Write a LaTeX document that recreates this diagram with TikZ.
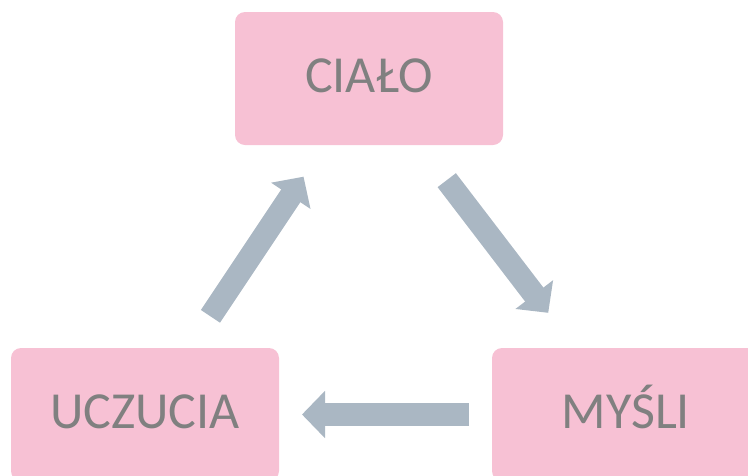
\documentclass[tikz,border=0pt]{standalone}
\usepackage{fontspec}
\setmainfont{Carlito}
\usepackage{xcolor}
\usepackage{tikz}
\usetikzlibrary{positioning,calc,arrows.meta}

\definecolor{boxpink}{HTML}{F7C1D4}
\definecolor{flowgray}{HTML}{AAB7C3}
\definecolor{textgray}{HTML}{808080}

\begin{document}
\begin{tikzpicture}[x=1pt,y=-1pt,
    box/.style={fill=boxpink, rounded corners=10pt, minimum width=268pt, minimum height=133pt,
        text=textgray, font=\fontsize{52}{60}\selectfont, text height=34pt, text depth=6pt},
    flow/.style={draw=flowgray, line width=23pt, -{Triangle[width=46pt,length=23pt]}, fill=flowgray}]
    \useasboundingbox (0,0) rectangle (748,475);
    \clip (0,0) rectangle (748,475);

    \node[box] (cialo) at (369,78.5) {CIAŁO};
    \node[box] (uczucia) at (145,414.5) {UCZUCIA};
    \node[box] (mysli) at (626,414.5) {MYŚLI};

    \draw[flow, shorten <=118pt, shorten >=118pt] (uczucia.center) -- (cialo.center);
    \draw[flow, shorten <=128pt, shorten >=128pt] (cialo.center) -- (mysli.center);
    \draw[flow, shorten <=157pt, shorten >=157pt] (mysli.center) -- (uczucia.center);
\end{tikzpicture}
\end{document}
